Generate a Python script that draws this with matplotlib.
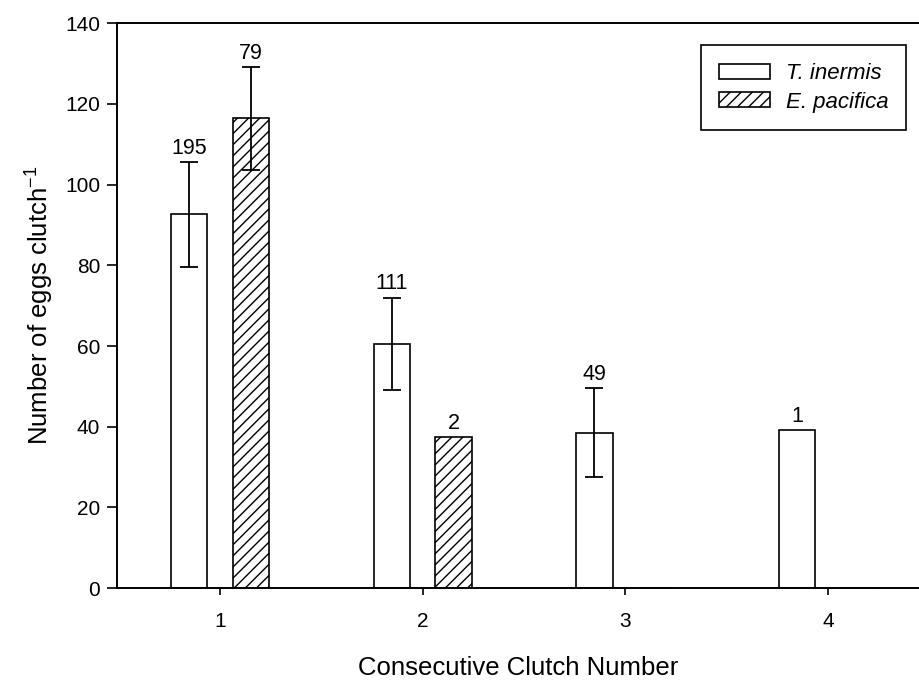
import matplotlib.pyplot as plt
import numpy as np

plt.rcParams['font.family'] = ['Liberation Sans', 'DejaVu Sans']
plt.rcParams['hatch.linewidth'] = 1.0

# Mean eggs per clutch by consecutive clutch, with n above each bar
clutch = np.array([1, 2, 3, 4])
inermis_mean = [92.6, 60.5, 38.5, 39.2]
inermis_err = [13.0, 11.5, 11.0, 0.0]
inermis_n = ['195', '111', '49', '1']
pacifica_mean = [116.4, 37.5, 0.0, 0.0]
pacifica_err = [12.7, 0.0, 0.0, 0.0]
pacifica_n = ['79', '2', '', '']

width = 0.18
offset = 0.152

fig = plt.figure(figsize=(9.19, 6.8), dpi=100)
ax = fig.add_axes([0.127, 0.135, 0.873, 0.831])

ax.bar(clutch - offset, inermis_mean, width, color='white', edgecolor='black',
       linewidth=1.2, label='T. inermis')
ax.bar(clutch + offset, pacifica_mean, width, color='white', edgecolor='black',
       linewidth=1.2, hatch='///', label='E. pacifica')

def draw_errors(xs, means, errs, labels):
    for x, m, e, lab in zip(xs, means, errs, labels):
        if e > 0:
            ax.errorbar(x, m, yerr=e, fmt='none', ecolor='black', elinewidth=1.3,
                        capsize=6.5, capthick=1.3)
        if lab:
            ax.text(x, m + e + 0.8, lab, ha='center', va='bottom', fontsize=15.5)

draw_errors(clutch - offset, inermis_mean, inermis_err, inermis_n)
draw_errors(clutch + offset, pacifica_mean, pacifica_err, pacifica_n)

ax.set_xlim(0.49, 4.45)
ax.set_ylim(0, 140)
ax.set_xticks(clutch)
ax.set_yticks(np.arange(0, 141, 20))
ax.tick_params(axis='both', direction='out', labelsize=15, width=1.2)
ax.tick_params(axis='y', length=7, pad=5)
ax.tick_params(axis='x', length=5, pad=12)
ax.spines['right'].set_visible(False)
for s in ('left', 'bottom', 'top'):
    ax.spines[s].set_linewidth(1.4)

ax.set_xlabel('Consecutive Clutch Number', fontsize=18.5, labelpad=18)
ax.set_ylabel('Number of eggs clutch$^{\\mathregular{-1}}$', fontsize=18.5, labelpad=7)

leg = ax.legend(loc='upper right', bbox_to_anchor=(0.984, 0.961), borderaxespad=0,
                prop={'style': 'italic', 'size': 16}, fancybox=False,
                edgecolor='black', framealpha=1, handlelength=2.3, handleheight=0.65,
                borderpad=0.8, labelspacing=0.35, handletextpad=0.7)
leg.get_frame().set_linewidth(1.2)

fig.savefig('out.png', dpi=100)
